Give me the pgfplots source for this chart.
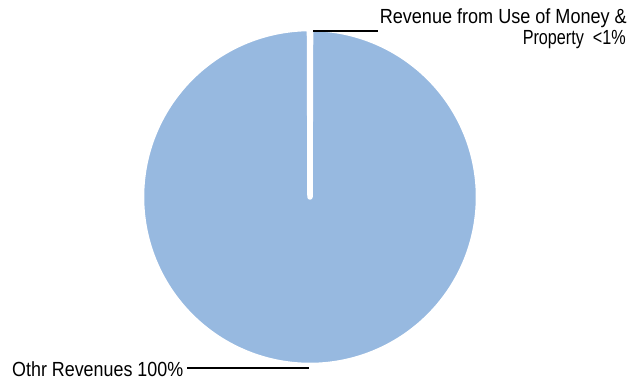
\documentclass[border=0pt]{standalone}
\usepackage{fontspec}
\setmainfont{Liberation Sans}
\usepackage{graphicx}
\usepackage{pgfplots}
\pgfplotsset{compat=1.18}

\definecolor{pieblue}{RGB}{151,185,224}

% slice values in percent
\def\pctMoney{0.1}
\def\pctOther{99.9}

\newcommand\lbl[2]{\resizebox{#1}{\height}{\fontsize{20.5}{21}\selectfont #2}}

\begin{document}
\begin{tikzpicture}
\pgfmathsetmacro\sA{90-\pctMoney*1.8}
\pgfmathsetmacro\sB{\sA-\pctOther*3.6}
\begin{axis}[
    width=629bp, height=379bp, scale only axis,
    xmin=0, xmax=629, ymin=0, ymax=379,
    hide axis, clip=false,
]
  % big slice
  \addplot[fill=pieblue, draw=white, line width=5.5bp, line join=round,
      domain=\sB:\sA, samples=300, variable=\t]
      ({310+168.5*cos(\t)}, {182+168.5*sin(\t)}) -- (axis cs:310,182) -- cycle;

  % leader lines
  \addplot[black, line width=1.6bp] coordinates {(313,348) (378,348)};
  \addplot[black, line width=1.6bp] coordinates {(187,11) (309,11)};

  \node[anchor=base east, inner sep=0] at (axis cs:627,355)
      {\lbl{247bp}{Revenue from Use of Money \&}};
  \node[anchor=base east, inner sep=0] at (axis cs:626,334.5)
      {\lbl{103bp}{Property \ <1\%}};
  \node[anchor=base west, inner sep=0] at (axis cs:12,3)
      {\lbl{171bp}{Othr Revenues 100\%}};
\end{axis}
\path (current axis.south west) rectangle (current axis.north east);
\end{tikzpicture}
\end{document}
